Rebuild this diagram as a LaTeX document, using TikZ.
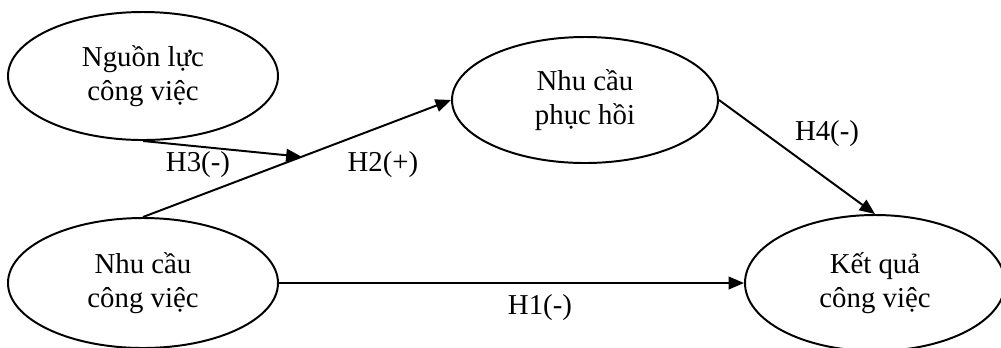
\documentclass[tikz,border=0pt]{standalone}
\usepackage{fontspec}
\setmainfont{Liberation Serif}
\usepackage{tikz}
\usetikzlibrary{shapes.geometric, arrows.meta, calc}

\begin{document}
\begin{tikzpicture}[
        construct/.style={draw, ellipse, line width=1.4pt, inner sep=0pt, align=center, font=\fontsize{20.5}{24.5}\selectfont},
        hyppath/.style={line width=1.4pt, -{Triangle[length=11pt,width=9pt]}},
        hyplabel/.style={inner sep=0pt, font=\fontsize{20.5}{24.5}\selectfont}
    ]
        % Research model: job demands, job resources, need for recovery, job performance
        \useasboundingbox (0,0) rectangle (25.025,-8.675);

        % Constructs (ellipses)
        \node[construct, minimum width=6.75cm, minimum height=3.2cm] (jobres) at (3.575,-1.9) {Nguồn lực\\công việc};
        \node[construct, minimum width=6.65cm, minimum height=3.15cm] (recovery) at (14.625,-2.5) {Nhu cầu\\phục hồi};
        \node[construct, minimum width=6.75cm, minimum height=3.25cm] (jobdem) at (3.575,-7.075) {Nhu cầu\\công việc};
        \node[construct, minimum width=6.5cm, minimum height=3.4cm] (jobperf) at (21.875,-7.075) {Kết quả\\công việc};

        % H2(+): demands -> recovery
        \draw[hyppath] (jobdem.north) -- (recovery.west);
        \node[hyplabel] (h2) at (9.575,-4.125) {H2(+)};

        % H3(-): resources moderate H2, arrow ends on the H2 line
        \coordinate (mod) at ($(jobdem.north)!0.515!(recovery.west)$);
        \draw[hyppath] (jobres.south) -- (mod);
        \node[hyplabel] (h3) at (4.95,-4.125) {H3(-)};

        % H4(-): recovery -> performance
        \draw[hyppath] (recovery.east) -- (jobperf.north);
        \node[hyplabel] (h4) at (20.675,-3.35) {H4(-)};

        % H1(-): demands -> performance
        \draw[hyppath] (jobdem.east) -- (jobperf.west);
        \node[hyplabel] (h1) at (13.5,-7.7) {H1(-)};
    \end{tikzpicture}
\end{document}
